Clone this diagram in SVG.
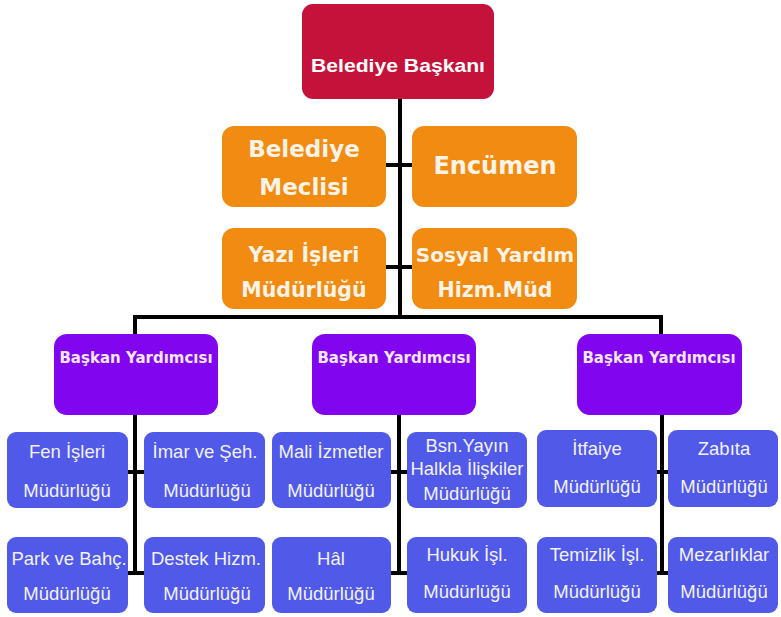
<svg xmlns="http://www.w3.org/2000/svg" width="781" height="617" viewBox="0 0 781 617">
<style>
.red{fill:#C5123A}
.org{fill:#F18B12}
.pur{fill:#8205F0}
.blu{fill:#5159E8}
.t1{font-family:"Liberation Sans",Arial,sans-serif;font-size:19px;font-weight:bold;fill:#fff;text-anchor:middle}
.to{font-family:"DejaVu Sans",sans-serif;font-weight:bold;fill:#FDF3E6;text-anchor:middle}
.tp{font-family:"DejaVu Sans",sans-serif;font-weight:bold;font-size:15px;fill:#F6E6F8;text-anchor:middle}
.tb{font-family:"Liberation Sans",Arial,sans-serif;font-size:18.5px;fill:#F2F2FC;text-anchor:middle}
.ln{stroke:#000;stroke-width:4;fill:none}
</style>
<rect width="781" height="617" fill="#fff"/>
<g id="connectors">
<path class="ln" d="M400 99V317M386 165H412M386 267H412M133 317H663M135 315V334M661 315V334"/>
<path class="ln" d="M135 415V573M128 472H144M128 573H144"/>
<path class="ln" d="M399 415V573M390 472H407M390 573H407"/>
<path class="ln" d="M662 415V573M657 472H668M657 573H668"/>
</g>
<g id="baskan"><rect class="red" x="302" y="4" width="192" height="95" rx="11"/><text class="t1" x="398" y="72" textLength="174" lengthAdjust="spacingAndGlyphs">Belediye Başkanı</text></g>
<g id="meclis"><rect class="org" x="222" y="126" width="164" height="81" rx="12"/><text class="to" font-size="23" x="304" y="157">Belediye</text><text class="to" font-size="23" x="304" y="195">Meclisi</text></g>
<g id="encumen"><rect class="org" x="412" y="126" width="165" height="81" rx="12"/><text class="to" font-size="24" x="495" y="174">Encümen</text></g>
<g id="yazi"><rect class="org" x="222" y="228" width="164" height="81" rx="12"/><text class="to" font-size="20.5" x="304" y="262">Yazı İşleri</text><text class="to" font-size="20.5" x="304" y="297">Müdürlüğü</text></g>
<g id="sosyal"><rect class="org" x="412" y="228" width="165" height="81" rx="12"/><text class="to" font-size="20" x="495" y="262">Sosyal Yardım</text><text class="to" font-size="20.5" x="495" y="297">Hizm.Müd</text></g>
<g id="by1"><rect class="pur" x="54" y="334" width="164" height="81" rx="13"/><text class="tp" x="136" y="363">Başkan Yardımcısı</text></g>
<g id="by2"><rect class="pur" x="312" y="334" width="164" height="81" rx="13"/><text class="tp" x="394" y="363">Başkan Yardımcısı</text></g>
<g id="by3"><rect class="pur" x="577" y="334" width="165" height="81" rx="13"/><text class="tp" x="659" y="363">Başkan Yardımcısı</text></g>
<g id="fen"><rect class="blu" x="7" y="432" width="121" height="76" rx="9"/><text class="tb" x="67" y="458">Fen İşleri</text><text class="tb" x="67" y="497">Müdürlüğü</text></g>
<g id="imar"><rect class="blu" x="144" y="432" width="121" height="76" rx="9"/><text class="tb" x="205" y="458">İmar ve  Şeh.</text><text class="tb" x="207" y="497">Müdürlüğü</text></g>
<g id="park"><rect class="blu" x="7" y="537" width="121" height="76" rx="9"/><text class="tb" x="69" y="565">Park ve Bahç.</text><text class="tb" x="67" y="600">Müdürlüğü</text></g>
<g id="destek"><rect class="blu" x="144" y="537" width="121" height="76" rx="9"/><text class="tb" x="206" y="565">Destek Hizm.</text><text class="tb" x="207" y="600">Müdürlüğü</text></g>
<g id="mali"><rect class="blu" x="272" y="432" width="119" height="76" rx="9"/><text class="tb" x="331" y="458">Mali İzmetler</text><text class="tb" x="331" y="497">Müdürlüğü</text></g>
<g id="bsn"><rect class="blu" x="407" y="432" width="120" height="76" rx="9"/><text class="tb" x="467" y="452">Bsn.Yayın</text><text class="tb" x="467" y="475">Halkla İlişkiler</text><text class="tb" x="467" y="500">Müdürlüğü</text></g>
<g id="hal"><rect class="blu" x="272" y="537" width="119" height="76" rx="9"/><text class="tb" x="331" y="565">Hâl</text><text class="tb" x="331" y="600">Müdürlüğü</text></g>
<g id="hukuk"><rect class="blu" x="407" y="537" width="120" height="76" rx="9"/><text class="tb" x="467" y="561">Hukuk İşl.</text><text class="tb" x="467" y="598">Müdürlüğü</text></g>
<g id="itfaiye"><rect class="blu" x="537" y="430" width="120" height="77" rx="9"/><text class="tb" x="597" y="455">İtfaiye</text><text class="tb" x="597" y="493">Müdürlüğü</text></g>
<g id="zabita"><rect class="blu" x="668" y="430" width="110" height="77" rx="9"/><text class="tb" x="724" y="455">Zabıta</text><text class="tb" x="724" y="493">Müdürlüğü</text></g>
<g id="temizlik"><rect class="blu" x="537" y="537" width="120" height="76" rx="9"/><text class="tb" x="597" y="561">Temizlik İşl.</text><text class="tb" x="597" y="598">Müdürlüğü</text></g>
<g id="mezarlik"><rect class="blu" x="668" y="537" width="110" height="76" rx="9"/><text class="tb" x="724" y="561">Mezarlıklar</text><text class="tb" x="724" y="598">Müdürlüğü</text></g>
</svg>
